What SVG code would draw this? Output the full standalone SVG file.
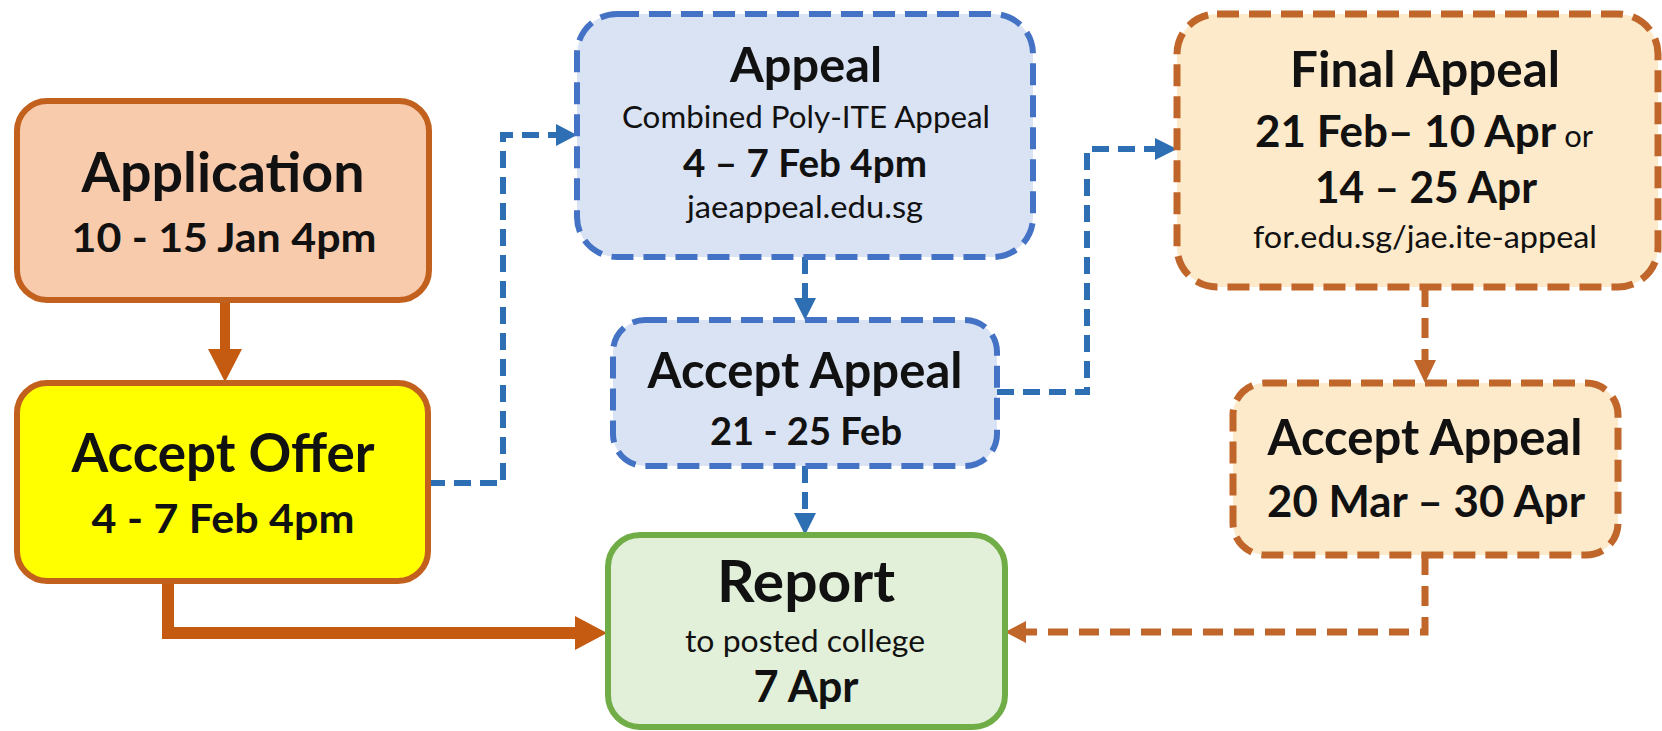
<svg xmlns="http://www.w3.org/2000/svg" width="1662" height="731" viewBox="0 0 1662 731">
<style>
.b{font-family:Lato,"Liberation Sans",sans-serif;font-weight:700;fill:#111;text-anchor:middle}
.r{font-family:Lato,"Liberation Sans",sans-serif;font-weight:400;fill:#111;text-anchor:middle}
.solidbox{stroke:#C2601E;stroke-width:6}
.bluebox{fill:#DAE3F3;stroke:#4472C4;stroke-width:6;stroke-dasharray:22 10}
.orbox{fill:#FCEACB;stroke:#C0662A;stroke-width:7;stroke-dasharray:22 10}
.greenbox{fill:#E2F0D9;stroke:#70AD47;stroke-width:6}
.osolid{fill:none;stroke:#C55A11}
.bdash{fill:none;stroke:#2E6FB4;stroke-width:6;stroke-dasharray:17 9}
.odash{fill:none;stroke:#C0662A;stroke-width:7;stroke-dasharray:20 11}
</style>
<rect width="1662" height="731" fill="#ffffff"/>
<g id="connectors">
  <line class="osolid" x1="225" y1="300" x2="225" y2="350" stroke-width="10"/>
  <polygon points="208,349 242,349 225,382" fill="#C55A11"/>
  <polyline class="osolid" points="168,582 168,633 576,633" stroke-width="12"/>
  <polygon points="575,616 575,650 607,633" fill="#C55A11"/>
  <polyline class="bdash" points="428,483 503,483 503,135 558,135"/>
  <polygon points="556,124 556,146 577,135" fill="#2E6FB4"/>
  <line class="bdash" x1="805" y1="257" x2="805" y2="300"/>
  <polygon points="794,298 816,298 805,320" fill="#2E6FB4"/>
  <line class="bdash" x1="805" y1="466" x2="805" y2="515"/>
  <polygon points="794,513 816,513 805,535" fill="#2E6FB4"/>
  <polyline class="bdash" points="997,392 1087,392 1087,149 1158,149"/>
  <polygon points="1155,138 1155,160 1177,149" fill="#2E6FB4"/>
  <line class="odash" x1="1425" y1="287" x2="1425" y2="362"/>
  <polygon points="1414,360 1436,360 1425,383" fill="#C0662A"/>
  <polyline class="odash" points="1425,555 1425,632 1024,632"/>
  <polygon points="1026,621 1026,643 1005,632" fill="#C0662A"/>
</g>
<g id="application">
  <rect class="solidbox" x="17" y="101" width="412" height="199" rx="30" fill="#F8CBAD"/>
  <text class="b" x="223" y="192" font-size="55" textLength="283" lengthAdjust="spacingAndGlyphs">Application</text>
  <text class="b" x="224" y="252" font-size="40" textLength="305" lengthAdjust="spacingAndGlyphs">10 - 15 Jan 4pm</text>
</g>
<g id="accept-offer">
  <rect class="solidbox" x="17" y="383" width="411" height="198" rx="30" fill="#FFFF00"/>
  <text class="b" x="223" y="472" font-size="54" textLength="303" lengthAdjust="spacingAndGlyphs">Accept Offer</text>
  <text class="b" x="223" y="533" font-size="41" textLength="263" lengthAdjust="spacingAndGlyphs">4 - 7 Feb 4pm</text>
</g>
<g id="appeal">
  <rect class="bluebox" x="577" y="14" width="456" height="243" rx="40"/>
  <text class="b" x="806" y="82" font-size="48" textLength="152" lengthAdjust="spacingAndGlyphs">Appeal</text>
  <text class="r" x="806" y="128" font-size="31" textLength="368" lengthAdjust="spacingAndGlyphs">Combined Poly-ITE Appeal</text>
  <text class="b" x="805" y="177" font-size="38" textLength="244" lengthAdjust="spacingAndGlyphs">4 – 7 Feb 4pm</text>
  <text class="r" x="805" y="218" font-size="31" textLength="236" lengthAdjust="spacingAndGlyphs">jaeappeal.edu.sg</text>
</g>
<g id="accept-appeal-1">
  <rect class="bluebox" x="613" y="320" width="384" height="146" rx="32"/>
  <text class="b" x="805" y="388" font-size="49" textLength="315" lengthAdjust="spacingAndGlyphs">Accept Appeal</text>
  <text class="b" x="806" y="445" font-size="39" textLength="192" lengthAdjust="spacingAndGlyphs">21 - 25 Feb</text>
</g>
<g id="report">
  <rect class="greenbox" x="608" y="535" width="397" height="192" rx="32"/>
  <text class="b" x="806" y="602" font-size="58" textLength="178" lengthAdjust="spacingAndGlyphs">Report</text>
  <text class="r" x="805" y="652" font-size="31" textLength="240" lengthAdjust="spacingAndGlyphs">to posted college</text>
  <text class="b" x="806" y="702" font-size="43" textLength="105" lengthAdjust="spacingAndGlyphs">7 Apr</text>
</g>
<g id="final-appeal">
  <rect class="orbox" x="1177" y="14" width="481" height="273" rx="40"/>
  <text class="b" x="1425" y="87" font-size="49" textLength="270" lengthAdjust="spacingAndGlyphs">Final Appeal</text>
  <text class="b" x="1424" y="147" font-size="44" textLength="338" lengthAdjust="spacingAndGlyphs">21 Feb– 10 Apr<tspan class="r" font-size="31" font-weight="400"> or</tspan></text>
  <text class="b" x="1426" y="203" font-size="44" textLength="222" lengthAdjust="spacingAndGlyphs">14 – 25 Apr</text>
  <text class="r" x="1425" y="248" font-size="31" textLength="344" lengthAdjust="spacingAndGlyphs">for.edu.sg/jae.ite-appeal</text>
</g>
<g id="accept-appeal-2">
  <rect class="orbox" x="1233" y="383" width="385" height="172" rx="32"/>
  <text class="b" x="1425" y="455" font-size="49" textLength="315" lengthAdjust="spacingAndGlyphs">Accept Appeal</text>
  <text class="b" x="1426" y="517" font-size="43" textLength="318" lengthAdjust="spacingAndGlyphs">20 Mar – 30 Apr</text>
</g>
</svg>
